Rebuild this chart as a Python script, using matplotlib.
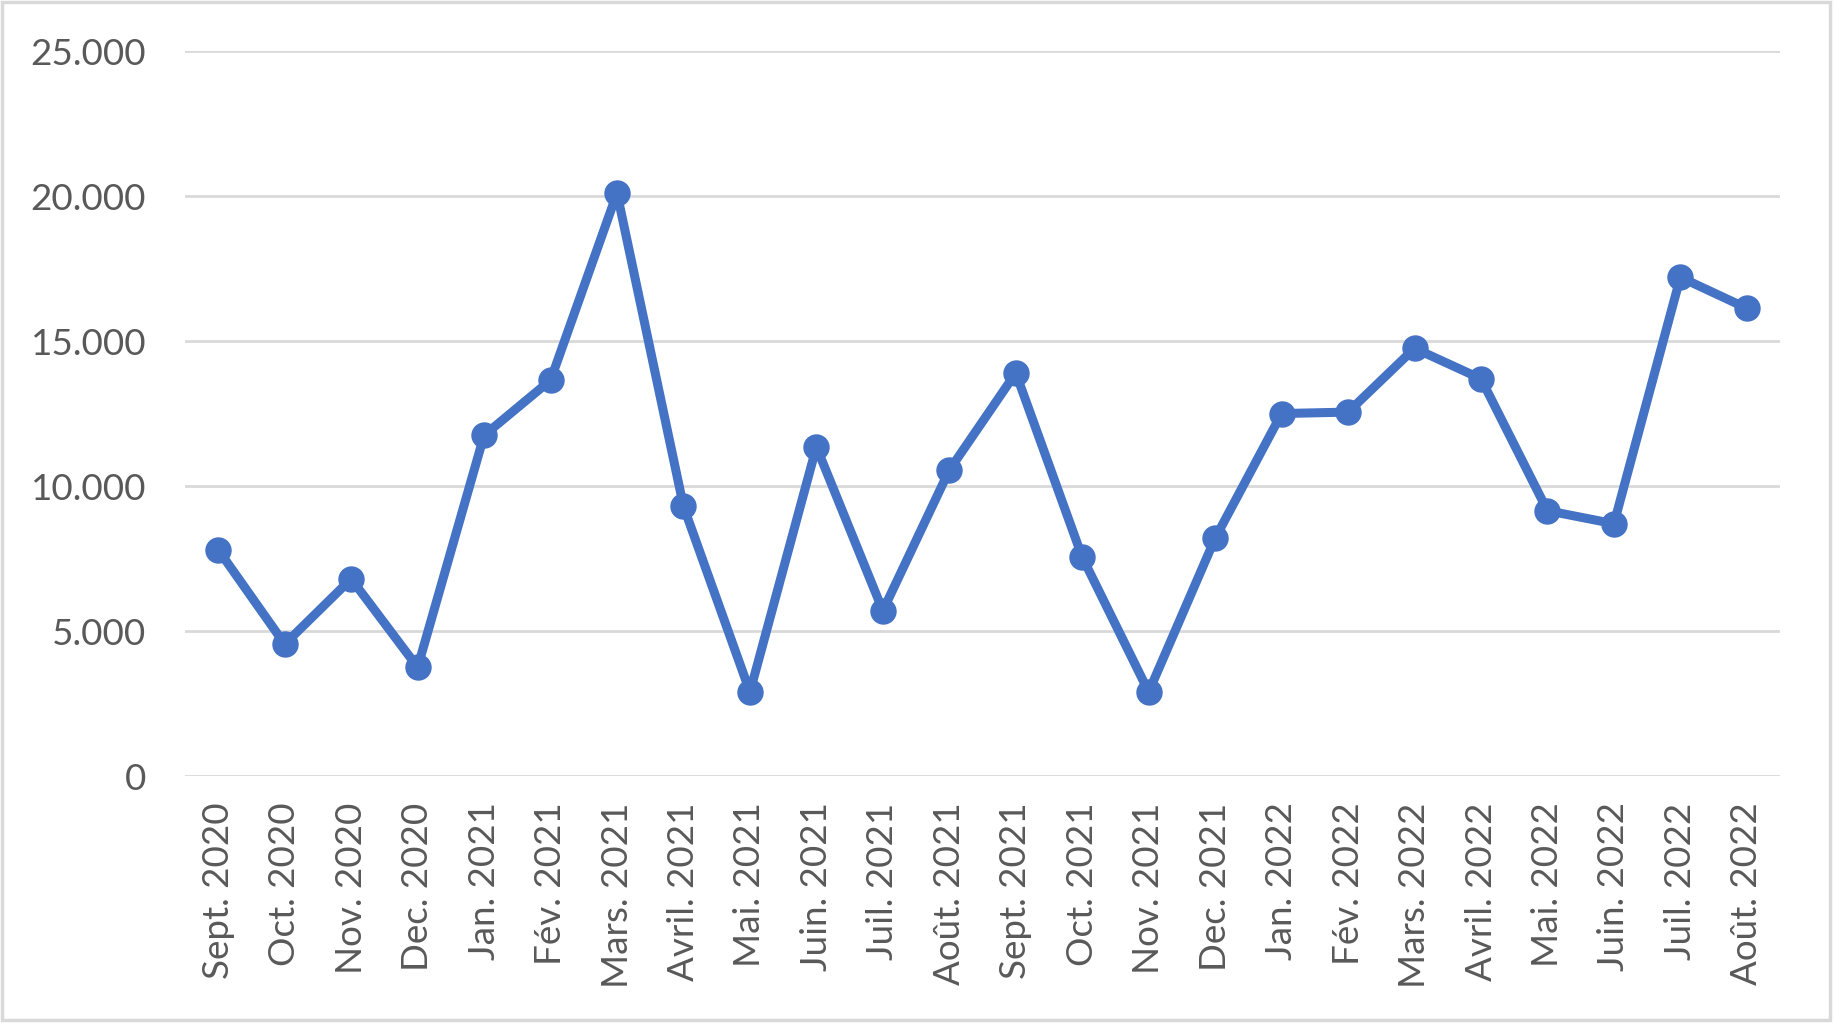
import matplotlib
matplotlib.use("Agg")
import matplotlib.pyplot as plt
from matplotlib.ticker import FuncFormatter, FixedLocator
from matplotlib.patches import Rectangle

months = ["Sept. 2020", "Oct. 2020", "Nov. 2020", "Dec. 2020", "Jan. 2021", "Fév. 2021",
          "Mars. 2021", "Avril. 2021", "Mai. 2021", "Juin. 2021", "Juil. 2021", "Août. 2021",
          "Sept. 2021", "Oct. 2021", "Nov. 2021", "Dec. 2021", "Jan. 2022", "Fév. 2022",
          "Mars. 2022", "Avril. 2022", "Mai. 2022", "Juin. 2022", "Juil. 2022", "Août. 2022"]
values = [7800, 4550, 6800, 3750, 11750, 13650, 20100, 9300, 2900, 11350, 5700, 10550,
          13900, 7550, 2900, 8200, 12500, 12550, 14750, 13700, 9150, 8700, 17200, 16130]
yticks = [0, 5000, 10000, 15000, 20000, 25000]

plt.rcParams['font.family'] = ['Lato', 'DejaVu Sans']
fig = plt.figure(figsize=(18.34, 10.23), dpi=100)
ax = fig.add_axes([0.1009, 0.2414, 0.9706 - 0.1009, 0.9501 - 0.2414])

x = list(range(len(months)))
ax.plot(x, values, color='#4472C4', linewidth=6.5, marker='o', markersize=18,
        solid_joinstyle='round', zorder=3)

ax.set_xlim(-0.5, len(months) - 0.5)
ax.set_ylim(0, 25000)
ax.yaxis.set_major_locator(FixedLocator(yticks))
ax.yaxis.set_major_formatter(FuncFormatter(lambda v, p: f"{int(v):,}".replace(",", ".")))
ax.set_xticks(x)
ax.set_xticklabels(months, rotation=90)
ax.grid(axis='y', color='#d9d9d9', linewidth=2)
ax.set_axisbelow(True)
for s in ax.spines.values():
    s.set_visible(False)
ax.tick_params(axis='both', length=0, labelsize=26.5, labelcolor='#595959')
ax.tick_params(axis='y', pad=28)
ax.tick_params(axis='x', pad=19)

fig.patches.append(Rectangle((2 / 1834, 3 / 1023), 1828 / 1834, 1018 / 1023,
                             transform=fig.transFigure, fill=False,
                             edgecolor='#d9d9d9', linewidth=2.5))

fig.savefig("out.png", dpi=100)
